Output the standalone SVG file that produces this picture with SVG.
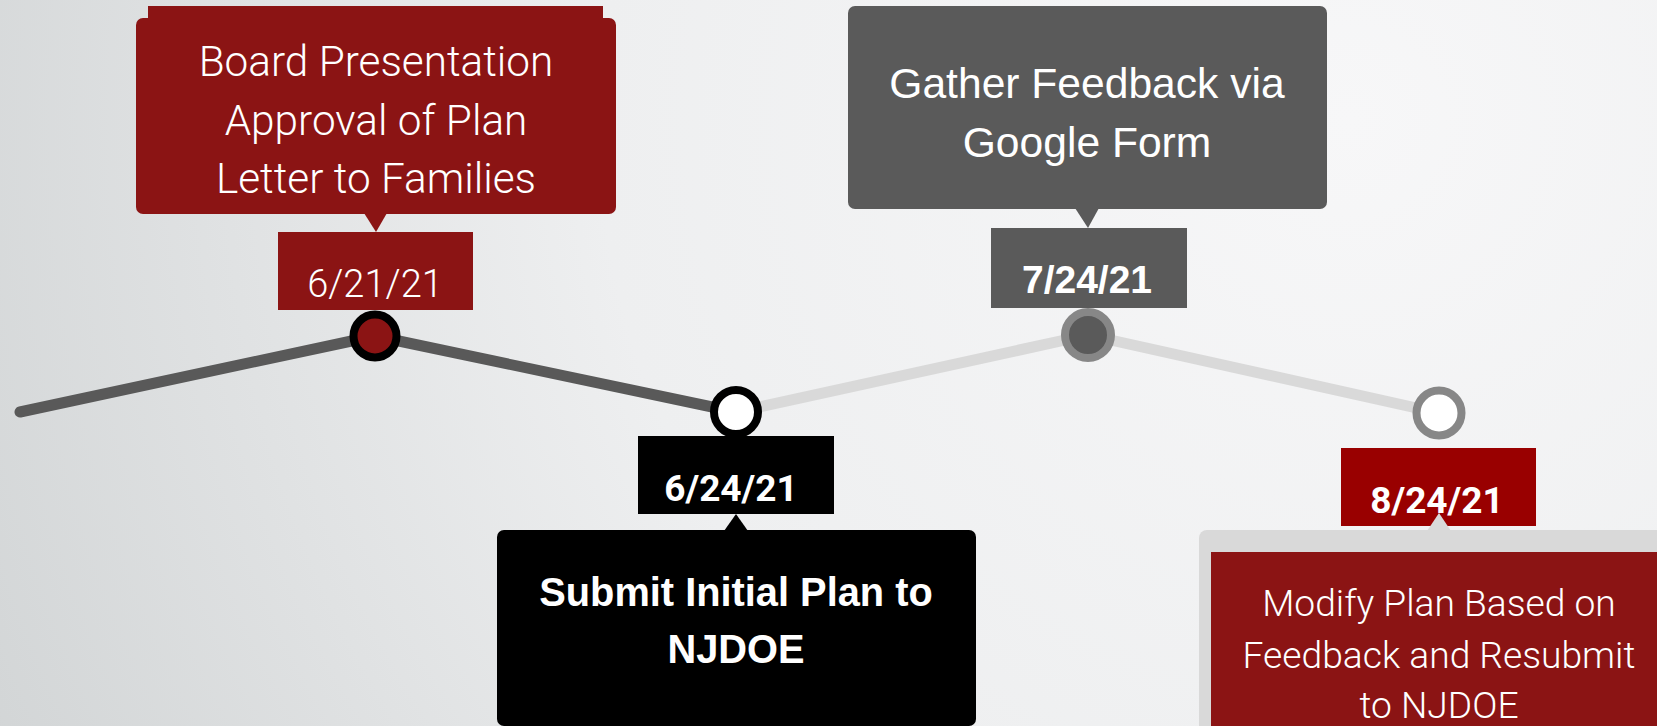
<svg xmlns="http://www.w3.org/2000/svg" width="1657" height="726" viewBox="0 0 1657 726">
<defs>
<radialGradient id="bg" gradientUnits="userSpaceOnUse" cx="1350" cy="120" r="1500">
<stop offset="0" stop-color="#f7f7f8"/>
<stop offset="0.5" stop-color="#eeeff0"/>
<stop offset="1" stop-color="#d2d5d6"/>
</radialGradient>
<style>
.light{font-family:Roboto,"Liberation Sans",sans-serif;font-weight:300;fill:#fff;text-anchor:middle}
.rb{font-family:Roboto,"Liberation Sans",sans-serif;font-weight:700;fill:#fff;text-anchor:middle}
.ab{font-family:"Liberation Sans",Arial,sans-serif;font-weight:700;fill:#fff;text-anchor:middle}
.ar{font-family:"Liberation Sans",Arial,sans-serif;font-weight:400;fill:#fff;text-anchor:middle}
.red{fill:#8b1414}
.dg{fill:#5a5a5a}
.line{stroke-width:11;stroke-linecap:round;fill:none}
</style>
</defs>
<rect width="1657" height="726" fill="url(#bg)"/>
<g id="connectors">
<line class="line" x1="20" y1="412" x2="375" y2="336" stroke="#595959"/>
<line class="line" x1="375" y1="336" x2="736" y2="412" stroke="#595959"/>
<line class="line" x1="736" y1="412" x2="1088" y2="335" stroke="#d9d9d9"/>
<line class="line" x1="1088" y1="335" x2="1439" y2="413" stroke="#d9d9d9"/>
</g>
<g id="n1">
<rect class="red" x="148" y="6" width="455" height="40"/>
<rect class="red" x="136" y="18" width="480" height="196" rx="7"/>
<polygon class="red" points="364,213 387,213 376,232"/>
<rect class="red" x="278" y="232" width="195" height="78"/>
<text class="light" x="376" y="76" font-size="42.3">Board Presentation</text>
<text class="light" x="376" y="135" font-size="42.3">Approval of Plan</text>
<text class="light" x="376" y="193" font-size="42.3">Letter to Families</text>
<text class="light" x="375" y="297" font-size="38">6/21/21</text>
<circle cx="375" cy="336" r="21.5" fill="#8b1414" stroke="#000" stroke-width="8"/>
</g>
<g id="n2">
<circle cx="736" cy="412" r="22" fill="#fff" stroke="#000" stroke-width="8"/>
<rect x="638" y="436" width="196" height="78" fill="#000"/>
<polygon points="724,531 748,531 736,514" fill="#000"/>
<rect x="497" y="530" width="479" height="196" rx="7" fill="#000"/>
<text class="rb" x="731" y="501" font-size="37">6/24/21</text>
<text class="ab" x="736" y="606" font-size="39.8">Submit Initial Plan to</text>
<text class="ab" x="736" y="663" font-size="39.8">NJDOE</text>
</g>
<g id="n3">
<rect class="dg" x="848" y="6" width="479" height="203" rx="7"/>
<polygon class="dg" points="1075,208 1099,208 1088,228"/>
<rect class="dg" x="991" y="228" width="196" height="80"/>
<text class="ar" x="1087" y="98" font-size="42.6">Gather Feedback via</text>
<text class="ar" x="1087" y="157" font-size="42.6">Google Form</text>
<text class="ab" x="1087" y="293" font-size="39">7/24/21</text>
<circle cx="1088" cy="335" r="23" fill="#5a5a5a" stroke="#878787" stroke-width="8"/>
</g>
<g id="n4">
<circle cx="1439" cy="413" r="22.5" fill="#fff" stroke="#878787" stroke-width="8"/>
<rect x="1341" y="448" width="195" height="78" fill="#990000"/>
<text class="rb" x="1437" y="513" font-size="37">8/24/21</text>
<polygon points="1427,531 1451,531 1439,513" fill="#d9d9d9"/>
<rect x="1199" y="530" width="470" height="210" rx="8" fill="#d9d9d9"/>
<rect class="red" x="1211" y="552" width="460" height="190"/>
<text class="light" x="1439" y="616" font-size="37.2">Modify Plan Based on</text>
<text class="light" x="1439" y="668" font-size="37.2">Feedback and Resubmit</text>
<text class="light" x="1439" y="718" font-size="37.2">to NJDOE</text>
</g>
</svg>
